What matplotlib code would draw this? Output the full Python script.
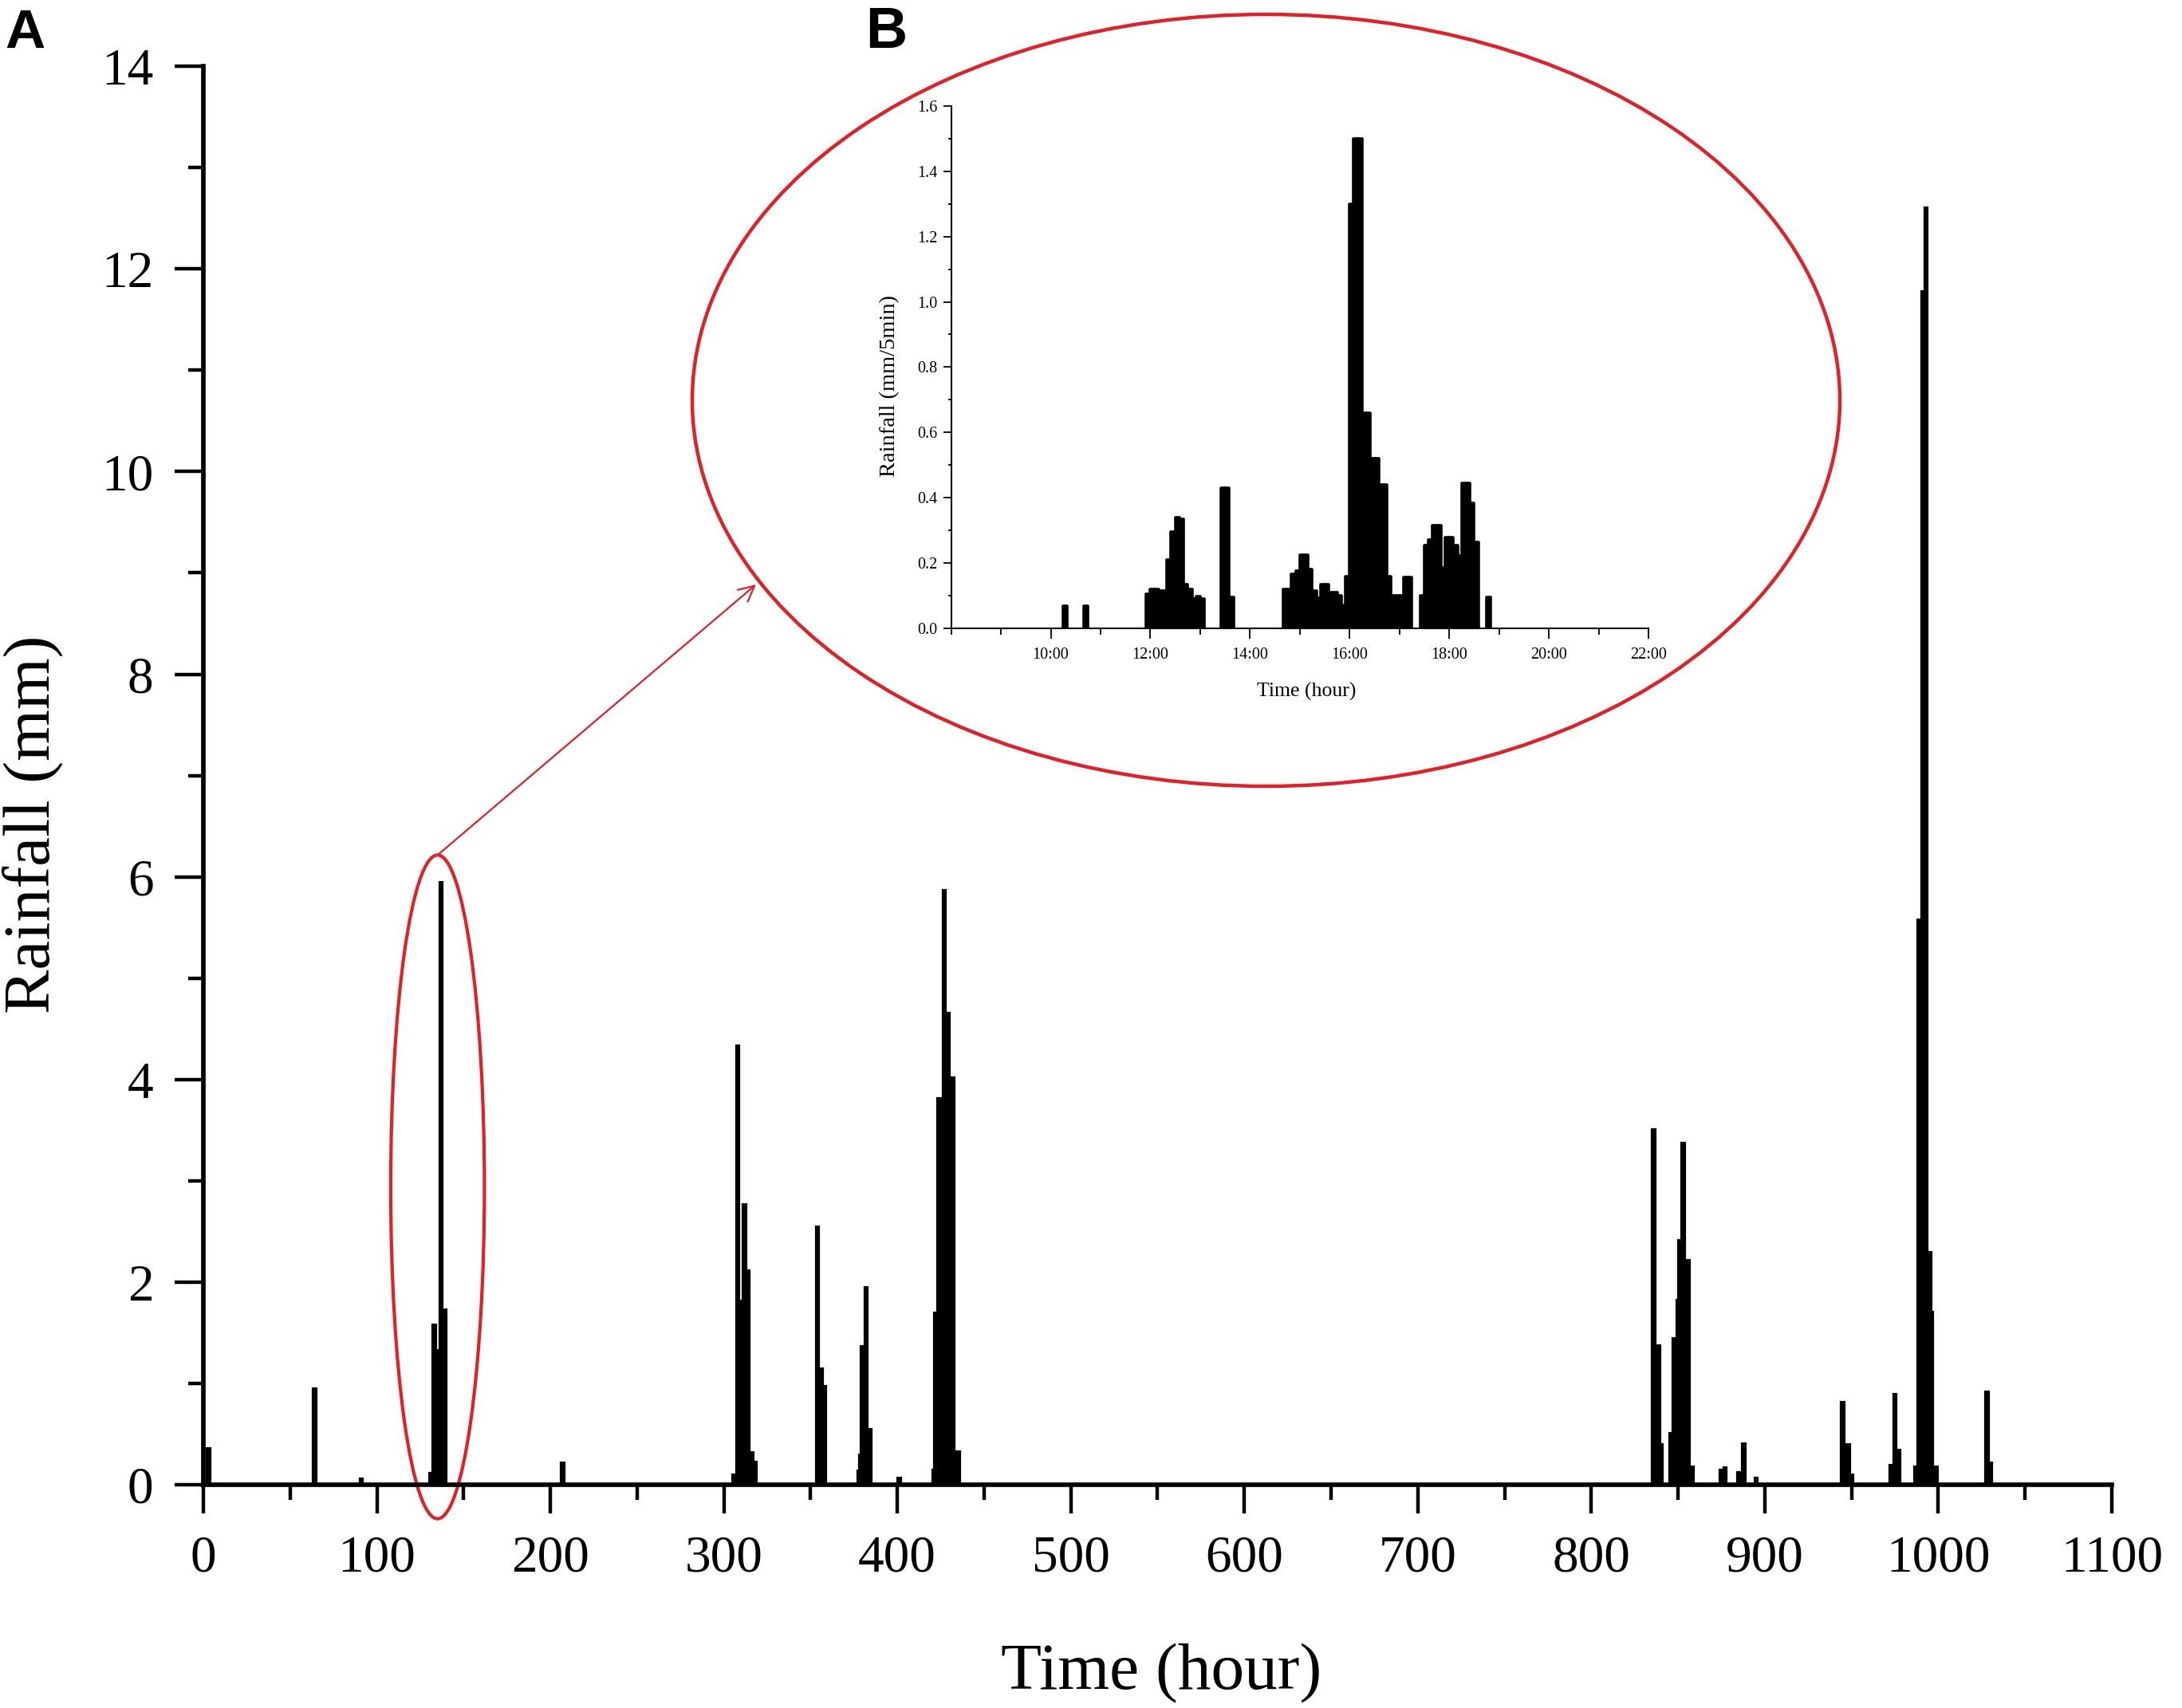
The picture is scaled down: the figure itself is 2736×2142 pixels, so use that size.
import matplotlib
matplotlib.use("Agg")
import numpy as np
import matplotlib.pyplot as plt
from matplotlib.patches import Ellipse
from matplotlib.ticker import MultipleLocator, FormatStrFormatter

plt.rcParams['font.family'] = ['Liberation Serif', 'DejaVu Serif']

# hourly rainfall (panel A)
hours = [3, 64, 91,
         131, 133, 135, 137, 139,
         207,
         306, 308, 310, 312, 314, 316, 318,
         354, 356, 358,
         378, 379, 380, 382, 384,
         401,
         421, 422, 424, 427, 429, 432, 435,
         836, 839, 840,
         846, 848, 850, 851, 853, 856, 858,
         875, 877, 885, 888, 895,
         945, 948, 950,
         973, 975, 977,
         987, 989, 991, 993, 995, 996, 999,
         1028, 1030]
rain = [0.36, 0.95, 0.06,
        0.12, 1.58, 1.33, 5.95, 1.73,
        0.22,
        0.10, 4.34, 1.82, 2.77, 2.12, 0.32, 0.23,
        2.55, 1.15, 0.98,
        0.14, 0.30, 1.37, 1.95, 0.55,
        0.07,
        0.15, 1.70, 3.82, 5.87, 4.66, 4.02, 0.33,
        3.51, 1.38, 0.40,
        0.51, 1.45, 1.83, 2.42, 3.38, 2.22, 0.18,
        0.15, 0.17, 0.13, 0.41, 0.07,
        0.82, 0.40, 0.10,
        0.20, 0.90, 0.35,
        0.18, 5.58, 11.78, 12.61, 2.30, 1.71, 0.18,
        0.92, 0.22]

# 5-min rainfall of the zoomed event (panel B)
times_5min = ["10:15", "10:40",
              "11:55", "12:00", "12:05", "12:10", "12:15", "12:20", "12:25",
              "12:30", "12:35", "12:40", "12:45", "12:50", "12:55", "13:00",
              "13:25", "13:30", "13:35",
              "14:40", "14:45", "14:50", "14:55", "15:00", "15:05", "15:10",
              "15:15", "15:20", "15:25", "15:30", "15:35", "15:40", "15:45",
              "15:50", "15:55", "16:00", "16:05", "16:10", "16:15", "16:20",
              "16:25", "16:30", "16:35", "16:40", "16:45", "16:50", "16:55",
              "17:00", "17:05", "17:10",
              "17:25", "17:30", "17:35", "17:40", "17:45", "17:50", "17:55",
              "18:00", "18:05", "18:10", "18:15", "18:20", "18:25", "18:30",
              "18:45"]
rain_5min = [0.068, 0.068,
             0.105, 0.12, 0.12, 0.115, 0.115, 0.21, 0.295,
             0.34, 0.335, 0.135, 0.12, 0.09, 0.097, 0.09,
             0.43, 0.43, 0.095,
             0.12, 0.12, 0.165, 0.177, 0.224, 0.224, 0.18,
             0.116, 0.094, 0.134, 0.134, 0.11, 0.11, 0.10,
             0.07, 0.159, 1.30, 1.50, 1.50, 0.66, 0.66,
             0.52, 0.52, 0.44, 0.44, 0.16, 0.10, 0.10,
             0.10, 0.156, 0.156,
             0.10, 0.254, 0.27, 0.316, 0.316, 0.186, 0.279,
             0.279, 0.253, 0.222, 0.444, 0.444, 0.383, 0.263,
             0.096]

inset_xticks = [10, 12, 14, 16, 18, 20, 22]
inset_xticklabels = ["10:00", "12:00", "14:00", "16:00", "18:00", "20:00", "22:00"]


def to_hour(s):
    h, m = s.split(":")
    return int(h) + int(m) / 60.0


red = '#e41f26'

fig = plt.figure(figsize=(27.36, 21.42), dpi=100)

# ---- panel A
ax = fig.add_axes([0.0932, 0.1307, 0.8746, 0.8305])
ax.bar(hours, rain, width=2.1, color='black', edgecolor='black', linewidth=1.6)
ax.set_xlim(0, 1100)
ax.set_ylim(0, 14)
ax.xaxis.set_major_locator(MultipleLocator(100))
ax.xaxis.set_minor_locator(MultipleLocator(50))
ax.yaxis.set_major_locator(MultipleLocator(2))
ax.yaxis.set_minor_locator(MultipleLocator(1))
for s in ['top', 'right']:
    ax.spines[s].set_visible(False)
for s in ['left', 'bottom']:
    ax.spines[s].set_linewidth(4.1)
ax.tick_params(which='major', direction='out', length=26, width=3.2, labelsize=47, pad=19)
ax.tick_params(which='minor', direction='out', length=13.7, width=3.2)
ax.set_xlabel('Time (hour)', fontsize=60)
ax.xaxis.set_label_coords(0.5020, -0.1120)
ax.set_ylabel('Rainfall (mm)', fontsize=60)
ax.yaxis.set_label_coords(-0.0735, 0.4654)

# small ellipse round the event at ~135 h
ax.add_patch(Ellipse((135, 2.94), 54, 6.55, fill=False, edgecolor=red, lw=3.0, clip_on=False))

# big ellipse holding panel B
fig.add_artist(Ellipse((1587.5 / 2736, 1 - 502 / 2142), 1439 / 2736, 968 / 2142,
                       transform=fig.transFigure, fill=False, edgecolor=red, lw=3.2))

ax.annotate('', xy=(948 / 2736, 1 - 733 / 2142), xycoords='figure fraction',
            xytext=(135, 2.94 + 6.55 / 2), textcoords='data',
            arrowprops=dict(arrowstyle='->,head_length=0.7,head_width=0.35', color=red,
                            lw=1.6, mutation_scale=20, shrinkA=0, shrinkB=0))

# ---- panel B
ax2 = fig.add_axes([0.4359, 0.6321, 0.3196, 0.3059])
ax2.bar([to_hour(t) for t in times_5min], rain_5min, width=5 / 60, align='edge',
        color='black', edgecolor='black', linewidth=2.6, joinstyle='round')
ax2.set_xlim(8, 22)
ax2.set_ylim(0, 1.6)
ax2.set_xticks(inset_xticks)
ax2.set_xticklabels(inset_xticklabels)
ax2.xaxis.set_minor_locator(MultipleLocator(1))
ax2.yaxis.set_major_locator(MultipleLocator(0.2))
ax2.yaxis.set_minor_locator(MultipleLocator(0.1))
ax2.yaxis.set_major_formatter(FormatStrFormatter('%.1f'))
for s in ['top', 'right']:
    ax2.spines[s].set_visible(False)
for s in ['left', 'bottom']:
    ax2.spines[s].set_linewidth(1.5)
ax2.tick_params(axis='x', which='major', direction='out', length=9.4, width=1.3, labelsize=14.5, pad=8)
ax2.tick_params(axis='x', which='minor', direction='out', length=5.8, width=1.3)
ax2.tick_params(axis='y', which='major', direction='out', length=7.2, width=1.3, labelsize=14.5, pad=5)
ax2.tick_params(axis='y', which='minor', direction='out', length=3.2, width=1.3)
ax2.set_xlabel('Time (hour)', fontsize=18.5)
ax2.xaxis.set_label_coords(0.509, -0.1038)
ax2.set_ylabel('Rainfall (mm/5min)', fontsize=20.5)
ax2.yaxis.set_label_coords(-0.074, 0.464)

# panel letters
fig.text(6 / 2736, 1 - 60 / 2142, 'A', family='Liberation Sans', weight='bold',
         fontsize=50, ha='left', va='baseline')
fig.text(1085 / 2736, 1 - 60 / 2142, 'B', family='Liberation Sans', weight='bold',
         fontsize=52, ha='left', va='baseline')

fig.savefig('out.png', dpi=100)
